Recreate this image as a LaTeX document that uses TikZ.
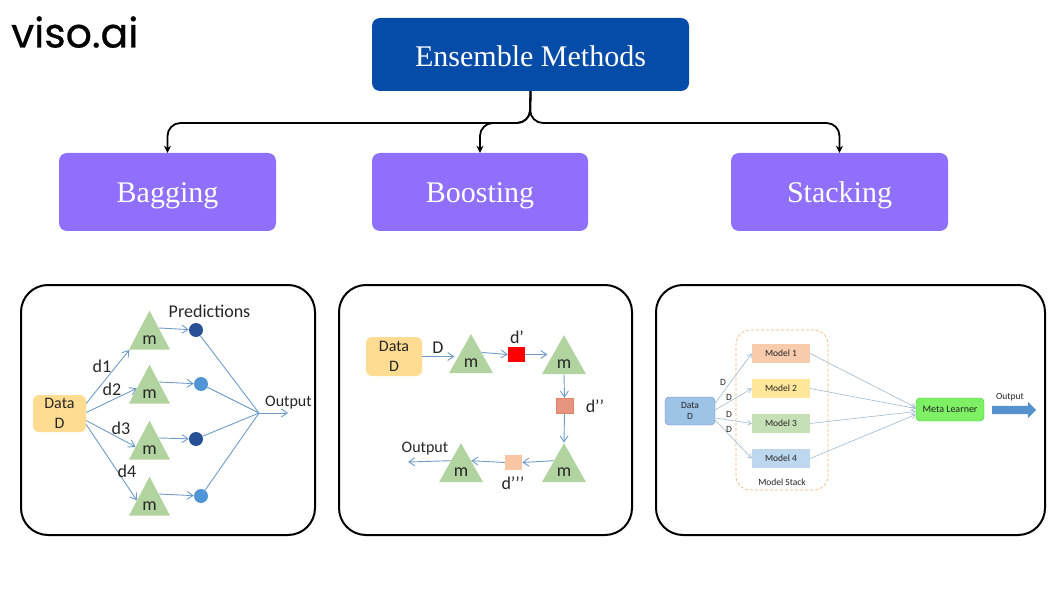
\documentclass[tikz,border=0pt]{standalone}
\usepackage{fontspec}
\setmainfont{Liberation Serif}
\newfontfamily\calibri{Carlito}
\newfontfamily\logofont[FakeBold=0.6]{Poppins}
\usetikzlibrary{shapes.geometric,shapes.arrows,arrows.meta}
\definecolor{ensblue}{RGB}{5,75,168}
\definecolor{purp}{RGB}{143,111,251}
\definecolor{wire}{RGB}{110,155,200}
\definecolor{tri}{RGB}{176,211,160}
\definecolor{stackwire}{RGB}{160,185,205}
\definecolor{dataorange}{RGB}{255,220,145}
\definecolor{preddark}{RGB}{40,80,150}
\definecolor{predlight}{RGB}{80,150,215}
\definecolor{sqmid}{RGB}{232,149,127}
\definecolor{sqlight}{RGB}{249,198,164}
\definecolor{datablue}{RGB}{157,195,230}
\definecolor{modelA}{RGB}{248,203,173}
\definecolor{modelB}{RGB}{255,230,153}
\definecolor{modelC}{RGB}{197,224,180}
\definecolor{modelD}{RGB}{189,215,238}
\definecolor{metagreen}{RGB}{125,240,100}
\definecolor{fatblue}{RGB}{85,145,205}
\tikzset{
  topbox/.style={rectangle,rounded corners=8pt,fill=#1,text=white,font=\fontsize{30}{30}\selectfont,inner sep=0pt,text height=24pt,text depth=2pt},
  panel/.style={rectangle,draw=black,line width=2pt,rounded corners=27pt,inner sep=0pt},
  branch/.style={draw=black,line width=1.8pt,rounded corners=13pt,-{Stealth[length=7pt,width=7pt]}},
  learner/.style={isosceles triangle,isosceles triangle stretches,shape border rotate=90,fill=tri,
    minimum width=#1,minimum height=39pt,inner sep=0pt,text=black!85,font=\calibri\fontsize{18}{18}\selectfont},
  learner/.default=41pt,
  databox/.style={rectangle,rounded corners=6pt,fill=dataorange,text=black!85,font=\calibri\fontsize{16}{19.5}\selectfont,align=center,inner sep=0pt},
  wirearrow/.style={draw=wire,line width=.9pt,-{Straight Barb[length=6pt,width=8pt]}},
  plainwire/.style={draw=wire,line width=.9pt},
  pred/.style={circle,minimum size=14pt,inner sep=0pt,fill=#1},
  smallsq/.style={rectangle,minimum width=17pt,minimum height=15pt,inner sep=0pt,fill=#1},
  lbl/.style={text=black!85,font=\calibri\fontsize{18}{18}\selectfont,inner sep=0pt},
  tinylbl/.style={text=black!85,font=\calibri\fontsize{9.5}{10}\selectfont,inner sep=0pt},
  modelbox/.style={rectangle,minimum width=58pt,minimum height=19pt,inner sep=0pt,fill=#1,text=black!85,font=\calibri\fontsize{9.5}{10}\selectfont},
  stackarrow/.style={draw=stackwire,line width=.6pt,-{Straight Barb[length=4pt,width=5pt]}}
}
\begin{document}
\begin{tikzpicture}[x=1pt,y=-1pt]
\useasboundingbox (0,0) rectangle (1060,596);
\node[font=\logofont\fontsize{41}{41}\selectfont,inner sep=0pt,anchor=base west] (logo) at (11,47.5) {viso.ai};
% top boxes
\node[topbox=ensblue,text depth=0pt,minimum width=317pt,minimum height=73pt] (ensemble) at (530.5,54.5) {Ensemble Methods};
\node[topbox=purp,minimum width=217pt,minimum height=78pt] (bagging) at (167.5,192) {Bagging};
\node[topbox=purp,minimum width=216pt,minimum height=78pt] (boosting) at (480,192) {Boosting};
\node[topbox=purp,minimum width=217pt,minimum height=78pt] (stacking) at (839.5,192) {Stacking};
\coordinate (fork) at (530,123);
\draw[branch] (ensemble.south) -- (fork) -- (fork -| bagging.north) -- (bagging.north);
\draw[branch] (ensemble.south) -- (fork) -- (fork -| boosting.north) -- (boosting.north);
\draw[branch] (ensemble.south) -- (fork) -- (fork -| stacking.north) -- (stacking.north);
% panels
\node[panel,minimum width=294pt,minimum height=250pt] (panelA) at (168,410) {};
\node[panel,minimum width=293pt,minimum height=250pt] (panelB) at (485.5,410) {};
\node[panel,minimum width=389pt,minimum height=250pt] (panelC) at (850.5,410) {};
% bagging
\node[databox,minimum width=53pt,minimum height=37pt] (dataA) at (59.5,413.5) {Data\\D};
\node[learner] (m1) at (149.5,340) {m};
\node[learner] (m2) at (149.5,394) {m};
\node[learner] (m3) at (149.5,450) {m};
\node[learner] (m4) at (149.5,506) {m};
\node[pred=preddark] (p1) at (196,330) {};
\node[pred=predlight] (p2) at (201,384) {};
\node[pred=preddark] (p3) at (196,439) {};
\node[pred=predlight] (p4) at (201,496) {};
\coordinate (join) at (259,413);
\coordinate (endA) at (288,413);
\draw[wirearrow] ([yshift=10pt]dataA.east) -- (m1.206);
\draw[wirearrow] ([yshift=1pt]dataA.east) -- (m2.156);
\draw[wirearrow] ([yshift=-7pt]dataA.east) -- (m3.167);
\draw[wirearrow] ([yshift=-11pt]dataA.east) -- (m4.156);
\draw[wirearrow] (m1.52) -- (p1);
\draw[wirearrow] (m2.52) -- (p2);
\draw[wirearrow] (m3.52) -- (p3);
\draw[wirearrow] (m4.52) -- (p4);
\draw[plainwire] (p1) -- (join);
\draw[plainwire] (p2) -- (join);
\draw[plainwire] (p3) -- (join);
\draw[plainwire] (p4) -- (join);
\draw[wirearrow] (join) -- (endA);
\node[lbl] (predlabel) at (209.5,311) {Predictions};
\node[lbl,font=\calibri\fontsize{16}{16}\selectfont] (outA) at (288.5,403) {Output};
\node[lbl] (d1) at (102,366) {d1};
\node[lbl] (d2) at (112,389) {d2};
\node[lbl] (d3) at (121,428) {d3};
\node[lbl] (d4) at (127,471) {d4};
% boosting
\node[databox,minimum width=56pt,minimum height=39pt] (dataB) at (394,356.5) {Data\\D};
\node[learner=44pt] (b1) at (471,363) {m};
\node[learner=44pt] (b2) at (564,364) {m};
\node[learner=44pt] (b3) at (564,472) {m};
\node[learner=44pt] (b4) at (461,472) {m};
\node[smallsq=red] (s1) at (516.5,354.5) {};
\node[smallsq=sqmid,draw=red!40!brown!70] (s2) at (564.5,405.5) {};
\node[smallsq=sqlight] (s3) at (513.5,462.5) {};
\coordinate (endB) at (408,462);
\draw[wirearrow] (dataB) -- (b1.west |- dataB);
\draw[wirearrow] (b1.45) -- (s1.west);
\draw[wirearrow] (s1) -- (b2.west |- s1);
\draw[wirearrow] (b2.south) -- (s2.north);
\draw[wirearrow] (s2.south) -- (b3.north);
\draw[wirearrow] (b3.132) -- (s3.east);
\draw[wirearrow] (s3.west) -- (b4.48);
\draw[wirearrow] (b4.132) -- (endB);
\node[lbl] (dB) at (438,348) {D};
\node[lbl] (d5) at (517,337) {d’};
\node[lbl] (d6) at (595,406) {d’’};
\node[lbl] (d7) at (513,483) {d’’’};
\node[lbl,font=\calibri\fontsize{16}{16}\selectfont] (outB) at (425,449) {Output};
% stacking
\node[draw=orange!60!brown!60,densely dashed,line width=.6pt,rounded corners=14pt,minimum width=92pt,minimum height=160pt,inner sep=0pt] (stack) at (782,410) {};
\node[rectangle,rounded corners=4pt,fill=datablue,draw=blue!40!gray!70,minimum width=50pt,minimum height=28pt,inner sep=0pt,align=center,text=black!85,font=\calibri\fontsize{9.5}{11}\selectfont] (dataC) at (690,411) {Data\\D};
\node[modelbox=modelA] (model1) at (781,353.5) {Model 1};
\node[modelbox=modelB] (model2) at (781,388.5) {Model 2};
\node[modelbox=modelC] (model3) at (781,423.5) {Model 3};
\node[modelbox=modelD] (model4) at (781,458.5) {Model 4};
\node[rectangle,rounded corners=4pt,fill=metagreen,draw=green!60!gray,minimum width=68pt,minimum height=23pt,inner sep=0pt,text=black!85,font=\calibri\fontsize{10}{10}\selectfont] (meta) at (950,409.5) {Meta Learner};
\node[single arrow,fill=fatblue,minimum height=44pt,text height=8pt,text depth=0pt,text width=0pt,single arrow head extend=4pt,single arrow tip angle=90,inner sep=0pt] (fat) at (1012,410) {};
\draw[stackarrow] ([yshift=8pt]dataC.east) -- (model1.west);
\draw[stackarrow] ([yshift=1pt]dataC.east) -- (model2.west);
\draw[stackarrow] ([yshift=-7pt]dataC.east) -- (model3.west);
\draw[stackarrow] ([yshift=-9pt]dataC.east) -- (model4.west);
\draw[stackarrow] (model1.east) -- ([yshift=2pt]meta.west);
\draw[stackarrow] (model2.east) -- ([yshift=1pt]meta.west);
\draw[stackarrow] (model3.east) -- ([yshift=-2pt]meta.west);
\draw[stackarrow] (model4.east) -- ([yshift=-5pt]meta.west);
\node[tinylbl] (dC1) at (723,382) {D};
\node[tinylbl] (dC2) at (729,397) {D};
\node[tinylbl] (dC3) at (729,414) {D};
\node[tinylbl] (dC4) at (729,429) {D};
\node[tinylbl] (stacklabel) at (782,482) {Model Stack};
\node[tinylbl] (outC) at (1010,397) {Output};
\end{tikzpicture}
\end{document}
